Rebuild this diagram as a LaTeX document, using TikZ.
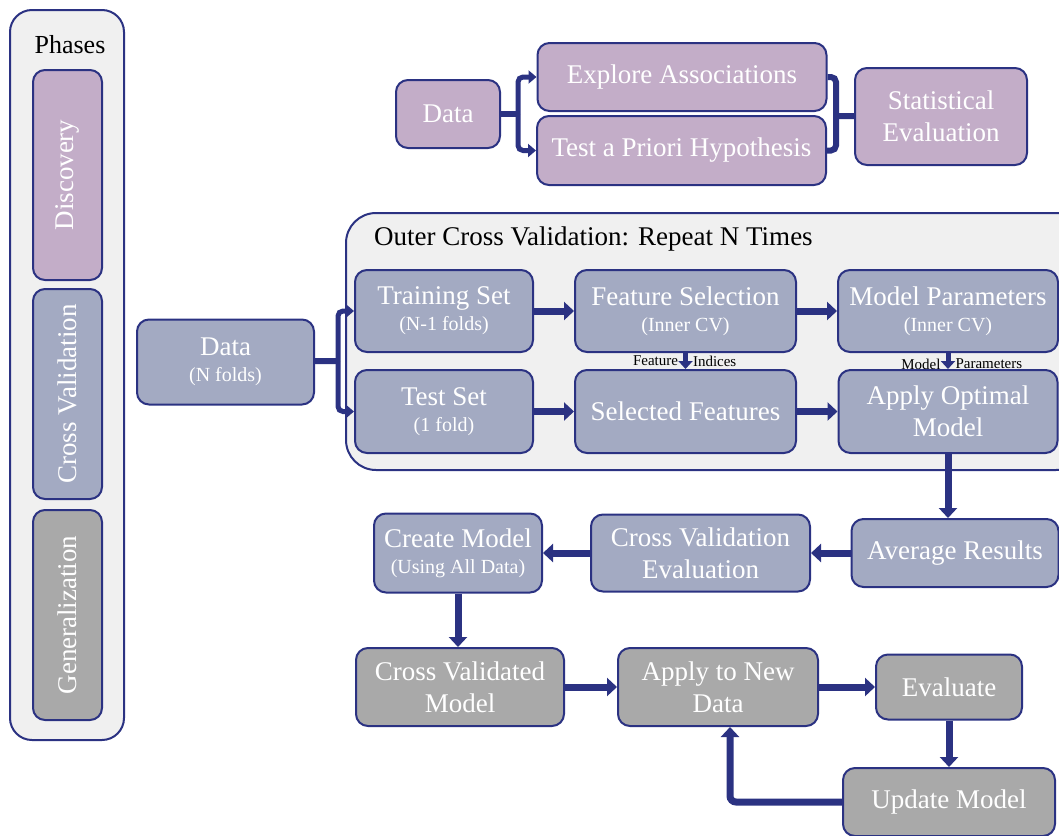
\documentclass[tikz,border=0pt]{standalone}
\usepackage{fontspec}
\setmainfont{Liberation Serif}
\usetikzlibrary{arrows.meta,positioning}
\definecolor{navy}{HTML}{2B3282}
\definecolor{mauve}{HTML}{C3ADC8}
\definecolor{slate}{HTML}{A3AAC2}
\definecolor{stone}{HTML}{A9A9A9}
\definecolor{panel}{HTML}{F0F0F0}
\newcommand{\subtxt}[1]{{\fontsize{20}{22}\selectfont #1}}
\begin{document}
\begin{tikzpicture}[x=1pt,y=-1pt,
    box/.style={draw=navy,line width=2,rounded corners=12,text=white,align=center,inner sep=0,font=\fontsize{27}{32}\selectfont},
    disc/.style={box,fill=mauve},
    cv/.style={box,fill=slate},
    gen/.style={box,fill=stone},
    panelbox/.style={draw=navy,line width=2,fill=panel,rounded corners=22},
    link/.style={draw=navy,line width=6},
    fork/.style={draw=navy,line width=5,rounded corners=5,-{Triangle[length=8,width=13]}},
    flow/.style={draw=navy,line width=7,-{Triangle[length=10,width=18]}},
    nudge/.style={draw=navy,line width=5,-{Triangle[length=8,width=14]}},
    lbl/.style={font=\fontsize{15}{17}\selectfont,inner sep=1}]
    \useasboundingbox (0,0) rectangle (1059,835);
    % phases column
    \node[panelbox,minimum width=114,minimum height=730](phases) at (67,375){};
    \node[font=\fontsize{26}{30}\selectfont](phtitle) at (70,45){Phases};
    \node[disc,rotate=90,minimum width=210,minimum height=69](discovery) at (67.5,175){Discovery};
    \node[cv,rotate=90,minimum width=210,minimum height=69](crossval) at (67.5,394){Cross Validation};
    \node[gen,rotate=90,minimum width=210,minimum height=69](general) at (67.5,615){Generalization};
    % discovery
    \node[disc,minimum width=104,minimum height=68](data) at (448,114){Data};
    \node[disc,minimum width=289,minimum height=68](explore) at (682,77){Explore Associations};
    \node[disc,minimum width=289,minimum height=69](hypo) at (681.5,150.5){Test a Priori Hypothesis};
    \node[disc,minimum width=172,minimum height=97](stat) at (941,116.5){Statistical\\Evaluation};
    \coordinate(split1) at (518,114);
    \coordinate(join1) at (836,116);
    \draw[link](data) -- (split1);
    \draw[fork](split1) |- (explore);
    \draw[fork](split1) |- (hypo);
    \draw[link,rounded corners=5](explore.east) -| (join1) |- (hypo.east);
    \draw[link](join1) -- (stat);
    % cross validation
    \node[panelbox,rounded corners=30,minimum width=740,minimum height=257](outer) at (716,341.5){};
    \node[anchor=west,font=\fontsize{27}{30}\selectfont,inner sep=0](outertitle) at (374,239){Outer Cross Validation: Repeat N Times};
    \node[cv,minimum width=177,minimum height=85](datan) at (225.5,362){Data\\[-6pt]\subtxt{(N folds)}};
    \node[cv,minimum width=178,minimum height=82](train) at (444,311){Training Set\\[-6pt]\subtxt{(N-1 folds)}};
    \node[cv,minimum width=221,minimum height=82](fsel) at (685.5,311){Feature Selection\\[-6pt]\subtxt{(Inner CV)}};
    \node[cv,minimum width=220,minimum height=82](mpar) at (948,311){Model Parameters\\[-6pt]\subtxt{(Inner CV)}};
    \node[cv,minimum width=178,minimum height=83](testset) at (444,411.5){Test Set\\[-6pt]\subtxt{(1 fold)}};
    \node[cv,minimum width=221,minimum height=83](selfeat) at (685.5,411.5){Selected Features};
    \node[cv,minimum width=219,minimum height=83](optmod) at (948,411.5){Apply Optimal\\Model};
    \coordinate(split2) at (338,361);
    \draw[link](datan) -- (split2);
    \draw[fork](split2) |- (train);
    \draw[fork](split2) |- (testset);
    \draw[flow](train) -- (fsel);
    \draw[flow](fsel) -- (mpar);
    \draw[flow](testset) -- (selfeat);
    \draw[flow](selfeat) -- (optmod);
    \draw[nudge](fsel) -- node[lbl,left=4](featlbl){Feature} node[lbl,right=4](indlbl){Indices} (selfeat);
    \draw[nudge](mpar) -- node[lbl,left=4,yshift=-3](modlbl){Model} node[lbl,right=4,yshift=-3](parlbl){Parameters} (optmod);
    \node[cv,minimum width=207,minimum height=68](avg) at (955,553){Average Results};
    \node[cv,minimum width=219,minimum height=77](cveval) at (700.5,553){Cross Validation\\Evaluation};
    \node[cv,minimum width=168,minimum height=79](create) at (458,553){Create Model\\[-6pt]\subtxt{(Using All Data)}};
    \draw[flow](optmod.south) -- (optmod.south |- avg.north);
    \draw[flow](avg) -- (cveval);
    \draw[flow](cveval) -- (create);
    % generalization
    \node[gen,minimum width=208,minimum height=78](cvmod) at (460,687){Cross Validated\\Model};
    \node[gen,minimum width=200,minimum height=78](newdata) at (718,687){Apply to New\\Data};
    \node[gen,minimum width=146,minimum height=65](evaluate) at (949,687){Evaluate};
    \node[gen,minimum width=212,minimum height=68](update) at (949,802){Update Model};
    \draw[flow](create.south) -- (create.south |- cvmod.north);
    \draw[flow](cvmod) -- (newdata);
    \draw[flow](newdata) -- (evaluate);
    \draw[flow](evaluate) -- (update);
    \draw[flow,rounded corners=6](update.west) -| ([xshift=12]newdata.south);
\end{tikzpicture}
\end{document}
